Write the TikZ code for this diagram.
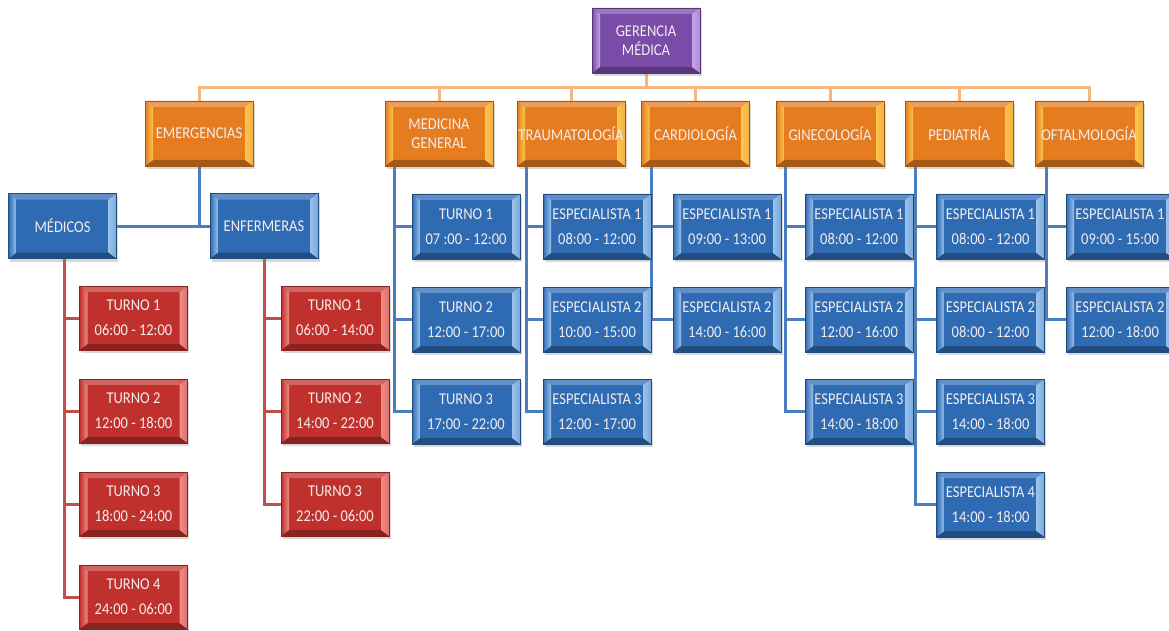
\documentclass[tikz,border=0pt]{standalone}
\usepackage{fontspec}
\setmainfont{Carlito}[FakeStretch=0.88]
\usetikzlibrary{calc,shadows}
\pgfdeclarelayer{bg}
\pgfsetlayers{bg,main}

\definecolor{orMain}{HTML}{E67C20}
\definecolor{orLight}{HTML}{F9C64E}
\definecolor{blMain}{HTML}{2E6BB3}
\definecolor{blLight}{HTML}{9AC2EC}
\definecolor{rdMain}{HTML}{C0302C}
\definecolor{rdLight}{HTML}{EC8C86}
\definecolor{puMain}{HTML}{7A4BA8}
\definecolor{puLight}{HTML}{C6A4E8}
\definecolor{txt}{HTML}{F2ECEC}
\definecolor{orLine}{HTML}{F5B782}
\definecolor{blLine}{HTML}{4A7EBE}
\definecolor{rdLine}{HTML}{C24E4A}

\tikzset{
  % bevelled box: #1 main colour, #2 highlight colour
  bevbox/.style 2 args={
    minimum width=108pt, minimum height=64pt, inner sep=0pt,
    fill=#1, draw=#1!70!black, line width=0.4pt,
    text=txt, align=center,
    drop shadow={opacity=0.30, shadow xshift=1.5pt, shadow yshift=-3pt},
    path picture={
      \path (path picture bounding box.north west) coordinate (pa)
            (path picture bounding box.north east) coordinate (pb)
            (path picture bounding box.south east) coordinate (pc)
            (path picture bounding box.south west) coordinate (pd);
      % top face
      \fill[#1!75!white] (pa) -- (pb) -- ($(pb)+(-8pt,-6pt)$) -- ($(pa)+(8pt,-6pt)$) -- cycle;
      % bottom face
      \fill[#1!72!black] (pd) -- (pc) -- ($(pc)+(-8pt,6pt)$) -- ($(pd)+(8pt,6pt)$) -- cycle;
      % left face
      \shade[left color=#1, right color=#2] (pa) -- ($(pa)+(8pt,-6pt)$) -- ($(pd)+(8pt,6pt)$) -- (pd) -- cycle;
      % right face
      \shade[left color=#2, right color=#2!70!#1] (pb) -- ($(pb)+(-8pt,-6pt)$) -- ($(pc)+(-8pt,6pt)$) -- (pc) -- cycle;
    }
  },
  topbox/.style={bevbox={puMain}{puLight}, font=\fontsize{16.5}{19}\selectfont, minimum height=65pt},
  deptbox/.style={bevbox={orMain}{orLight}, font=\fontsize{16.5}{19}\selectfont, minimum height=65pt},
  bluebox/.style={bevbox={blMain}{blLight}, font=\fontsize{16.5}{25}\selectfont, minimum height=65pt},
  redbox/.style={bevbox={rdMain}{rdLight}, font=\fontsize{16.5}{25}\selectfont},
  oline/.style={draw=orLine, line width=3pt},
  bline/.style={draw=blLine, line width=3pt},
  rline/.style={draw=rdLine, line width=3pt},
}

\begin{document}
\begin{tikzpicture}[x=1pt,y=-1pt]
\clip (0,0) rectangle (1169,631);

% head
\node[topbox] (ger) at (646,40.5) {GERENCIA\\MÉDICA};

% departments
\node[deptbox] (emg)  at (199,133.5)  {EMERGENCIAS};
\node[deptbox] (medg) at (439,133.5)  {MEDICINA\\GENERAL};
\node[deptbox] (trau) at (571,133.5)  {TRAUMATOLOGÍA};
\node[deptbox] (card) at (695.5,133.5){CARDIOLOGÍA};
\node[deptbox] (gine) at (830,133.5)  {GINECOLOGÍA};
\node[deptbox] (ped)  at (959,133.5)  {PEDIATRÍA};
\node[deptbox] (oft)  at (1089,133.5) {OFTALMOLOGÍA};

% emergency staff
\node[bluebox] (medicos) at (62.5,226) {MÉDICOS};
\node[bluebox] (enf)     at (264,226)  {ENFERMERAS};

\node[redbox] (mt1) at (133.5,318) {TURNO 1\\06:00 - 12:00};
\node[redbox] (mt2) at (133.5,411) {TURNO 2\\12:00 - 18:00};
\node[redbox] (mt3) at (133.5,504) {TURNO 3\\18:00 - 24:00};
\node[redbox] (mt4) at (133.5,597) {TURNO 4\\24:00 - 06:00};

\node[redbox] (et1) at (335,318) {TURNO 1\\06:00 - 14:00};
\node[redbox] (et2) at (335,411) {TURNO 2\\14:00 - 22:00};
\node[redbox] (et3) at (335,504) {TURNO 3\\22:00 - 06:00};

% medicina general
\node[bluebox] (mg1) at (466,226.5) {TURNO 1\\07 :00 - 12:00};
\node[bluebox] (mg2) at (466,319.5) {TURNO 2\\12:00 - 17:00};
\node[bluebox] (mg3) at (466,411.5) {TURNO 3\\17:00 - 22:00};

% traumatologia
\node[bluebox] (tr1) at (597,226.5) {ESPECIALISTA 1\\08:00 - 12:00};
\node[bluebox] (tr2) at (597,319.5) {ESPECIALISTA 2\\10:00 - 15:00};
\node[bluebox] (tr3) at (597,411.5) {ESPECIALISTA 3\\12:00 - 17:00};

% cardiologia
\node[bluebox] (ca1) at (727,226.5) {ESPECIALISTA 1\\09:00 - 13:00};
\node[bluebox] (ca2) at (727,319.5) {ESPECIALISTA 2\\14:00 - 16:00};

% ginecologia
\node[bluebox] (gi1) at (859,226.5) {ESPECIALISTA 1\\08:00 - 12:00};
\node[bluebox] (gi2) at (859,319.5) {ESPECIALISTA 2\\12:00 - 16:00};
\node[bluebox] (gi3) at (859,411.5) {ESPECIALISTA 3\\14:00 - 18:00};

% pediatria
\node[bluebox] (pe1) at (990.5,226.5) {ESPECIALISTA 1\\08:00 - 12:00};
\node[bluebox] (pe2) at (990.5,319.5) {ESPECIALISTA 2\\08:00 - 12:00};
\node[bluebox] (pe3) at (990.5,411.5) {ESPECIALISTA 3\\14:00 - 18:00};
\node[bluebox] (pe4) at (990.5,504.5) {ESPECIALISTA 4\\14:00 - 18:00};

% oftalmologia
\node[bluebox] (of1) at (1120,226.5) {ESPECIALISTA 1\\09:00 - 15:00};
\node[bluebox] (of2) at (1120,319.5) {ESPECIALISTA 2\\12:00 - 18:00};

\begin{pgfonlayer}{bg}
  \fill[white] (0,0) rectangle (1169,631);
  % head to departments
  \coordinate (bus) at (646,88);
  \draw[oline] (ger.south) -- (bus);
  \foreach \d in {emg,medg,trau,card,gine,ped,oft}
    \draw[oline] (bus) -| (\d.north);

  % emergency branch
  \draw[bline] (medicos.east) -- (enf.west);
  \draw[bline] (emg.south) -- (emg.south |- medicos.east);
  \foreach \c in {mt1,mt2,mt3,mt4}
    \draw[rline] ([xshift=2pt]medicos.south) |- (\c.west);
  \foreach \c in {et1,et2,et3}
    \draw[rline] (enf.south) |- (\c.west);

  % department branches
  \foreach \c in {mg1,mg2,mg3}
    \draw[bline] ([xshift=10pt]medg.south west) |- (\c.west);
  \foreach \c in {tr1,tr2,tr3}
    \draw[bline] ([xshift=10pt]trau.south west) |- (\c.west);
  \foreach \c in {ca1,ca2}
    \draw[bline] ([xshift=10pt]card.south west) |- (\c.west);
  \foreach \c in {gi1,gi2,gi3}
    \draw[bline] ([xshift=10pt]gine.south west) |- (\c.west);
  \foreach \c in {pe1,pe2,pe3,pe4}
    \draw[bline] ([xshift=11pt]ped.south west) |- (\c.west);
  \foreach \c in {of1,of2}
    \draw[bline] ([xshift=12pt]oft.south west) |- (\c.west);
\end{pgfonlayer}
\end{tikzpicture}
\end{document}
